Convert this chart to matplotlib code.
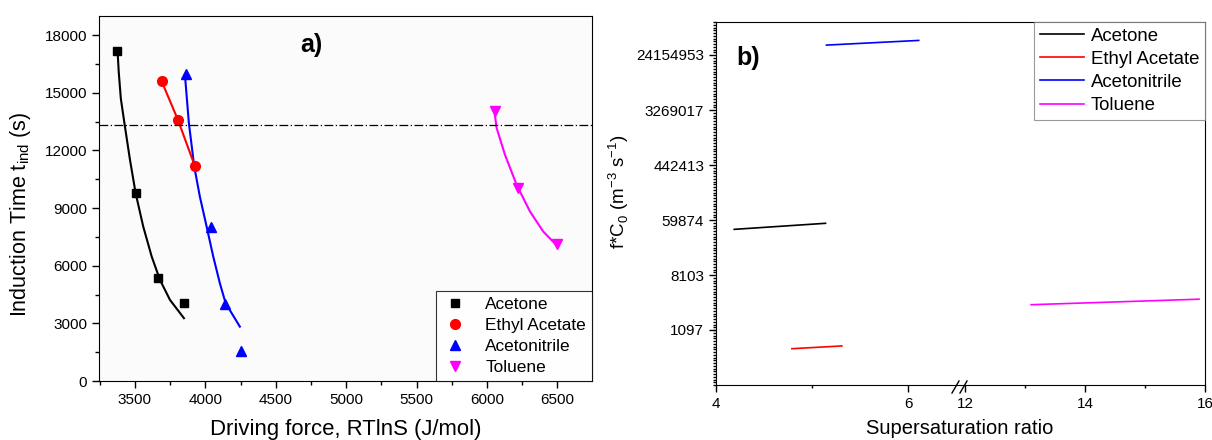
import numpy as np
import matplotlib
matplotlib.use('Agg')
import matplotlib.pyplot as plt
from matplotlib.ticker import MultipleLocator, FixedLocator, NullFormatter

plt.rcParams['font.family'] = ['Liberation Sans', 'DejaVu Sans']

# ---- panel a: induction time vs driving force ----
acetone_x = [3375, 3505, 3665, 3850]
acetone_y = [17200, 9800, 5350, 4050]
ethyl_x = [3690, 3805, 3925]
ethyl_y = [15600, 13600, 11200]
acn_x = [3860, 4040, 4140, 4250]
acn_y = [16000, 8000, 4000, 1550]
tol_x = [6055, 6220, 6500]
tol_y = [14050, 10050, 7150]

# fitted curves
acetone_fit_x = [3377, 3385, 3400, 3429, 3465, 3505, 3559, 3619, 3678, 3749, 3848]
acetone_fit_y = [17160, 16100, 14700, 13250, 11510, 9780, 8040, 6480, 5260, 4220, 3270]
acn_fit_x = [3855, 3883, 3921, 3961, 4009, 4056, 4103, 4144, 4245]
acn_fit_y = [15940, 13430, 11170, 9600, 8040, 6480, 5090, 4050, 2830]
tol_fit_x = [6052, 6068, 6127, 6210, 6305, 6399, 6490]
tol_fit_y = [14050, 13170, 11780, 10210, 8820, 7780, 7090]

threshold = 13300

# ---- panel b: f*C0 vs supersaturation ratio ----
b_names = ['Acetone', 'Ethyl Acetate', 'Acetonitrile', 'Toluene']
b_colors = ['black', 'red', 'blue', 'magenta']
b_x = [[4.19, 5.14], [4.79, 5.31], [5.15, 6.11], [13.1, 15.9]]
b_lny = [[10.66, 10.88], [6.32, 6.42], [17.36, 17.53], [7.92, 8.12]]
b_ticks = [1097, 8103, 59874, 442413, 3269017, 24154953]
b_ticklabels = ['1097', '8103', '59874', '442413', '3269017', '24154953']

fig = plt.figure(figsize=(12.12, 4.4), dpi=100)

# panel a
ax = fig.add_axes([99/1212, 59/440, 493/1212, 365/440])
ax.set_facecolor('#fbfbfb')
ax.plot(acetone_fit_x, acetone_fit_y, color='black', lw=1.5)
ax.plot(acn_fit_x, acn_fit_y, color='blue', lw=1.5)
ax.plot(tol_fit_x, tol_fit_y, color='magenta', lw=1.5)
ax.plot(ethyl_x, ethyl_y, color='red', lw=1.5)
ax.plot(acetone_x, acetone_y, 's', color='black', ms=6, ls='none', label='Acetone')
ax.plot(ethyl_x, ethyl_y, 'o', color='red', ms=7, ls='none', label='Ethyl Acetate')
ax.plot(acn_x, acn_y, '^', color='blue', ms=7, ls='none', label='Acetonitrile')
ax.plot(tol_x, tol_y, 'v', color='magenta', ms=7, ls='none', label='Toluene')
ax.axhline(threshold, color='black', lw=0.9, dashes=(7, 2, 1, 2))

ax.set_xlim(3245, 6745)
ax.set_ylim(0, 19000)
ax.xaxis.set_major_locator(MultipleLocator(500))
ax.xaxis.set_minor_locator(MultipleLocator(250))
ax.yaxis.set_major_locator(MultipleLocator(3000))
ax.yaxis.set_minor_locator(MultipleLocator(1500))
ax.tick_params(which='both', direction='out', labelsize=11, width=1)
ax.tick_params(which='major', length=5)
ax.tick_params(which='minor', length=3)
ax.set_xlabel('Driving force, RTlnS (J/mol)', fontsize=15.9, labelpad=9)
ax.set_ylabel('Induction Time t$_{\\mathregular{ind}}$ (s)', fontsize=15.5)
ax.yaxis.set_label_coords(-0.134, 0.457)
ax.text(0.43, 0.92, 'a)', transform=ax.transAxes, fontsize=18, fontweight='bold',
        ha='center', va='center')
leg = ax.legend(loc='lower right', fontsize=12.4, frameon=True, fancybox=False,
                edgecolor='black', labelspacing=0.35, handletextpad=1.0,
                borderaxespad=0, handlelength=1.5, borderpad=0.35)
leg.get_frame().set_linewidth(0.8)

# panel b, broken x axis
axl = fig.add_axes([716/1212, 55/440, 245/1212, 363/440])
axr = fig.add_axes([961/1212, 55/440, 244/1212, 363/440], sharey=axl)
for name, c, xs, ly in zip(b_names, b_colors, b_x, b_lny):
    target = axr if xs[0] > 10 else axl
    target.plot(xs, np.exp(ly), color=c, lw=1.2)
    axr.plot([], [], color=c, lw=1.2, label=name)

axl.set_yscale('log')
axl.set_ylim(np.exp(5), np.exp(18.2))
axl.yaxis.set_major_locator(FixedLocator(b_ticks))
axl.set_yticklabels(b_ticklabels)
axl.yaxis.set_minor_locator(FixedLocator(np.exp(np.arange(5, 18.25, 0.1))))
axl.yaxis.set_minor_formatter(NullFormatter())
axl.set_xlim(4, 6.55)
axr.set_xlim(11.93, 16)
axl.set_xticks([4, 6])
axl.set_xticks([5], minor=True)
axr.set_xticks([12, 14, 16])
axr.set_xticks([13, 15], minor=True)
axl.spines['right'].set_visible(False)
axr.spines['left'].set_visible(False)
axr.tick_params(axis='y', which='both', left=False, labelleft=False)
for a in (axl, axr):
    a.tick_params(which='both', direction='out', labelsize=11, width=1)
    a.tick_params(which='major', length=5)
    a.tick_params(which='minor', length=2.5)
axl.set_ylabel('f*C$_\\mathregular{0}$ (m$^{\\mathregular{-3}}$ s$^{\\mathregular{-1}}$)',
               fontsize=13.5)
axl.yaxis.set_label_coords(-0.347, 0.531)
axl.text(0.13, 0.9, 'b)', transform=axl.transAxes, fontsize=18, fontweight='bold',
         ha='center', va='center')
fig.text(960/1212, 12/440, 'Supersaturation ratio', fontsize=14.5, ha='center', va='center')

# break marks
for dx in (-6, 2):
    x0 = (961 + dx - 3) / 1212
    fig.add_artist(plt.Line2D([x0, x0 + 7/1212], [(440-393)/440, (440-381)/440],
                              color='black', lw=1))

legb = axr.legend(loc='upper right', fontsize=13.4, frameon=True, fancybox=False,
                  edgecolor='gray', labelspacing=0.33, handlelength=2.4,
                  handletextpad=0.35, borderaxespad=0, borderpad=0.3)
legb.get_frame().set_linewidth(0.8)

fig.savefig('out.png', dpi=100)
